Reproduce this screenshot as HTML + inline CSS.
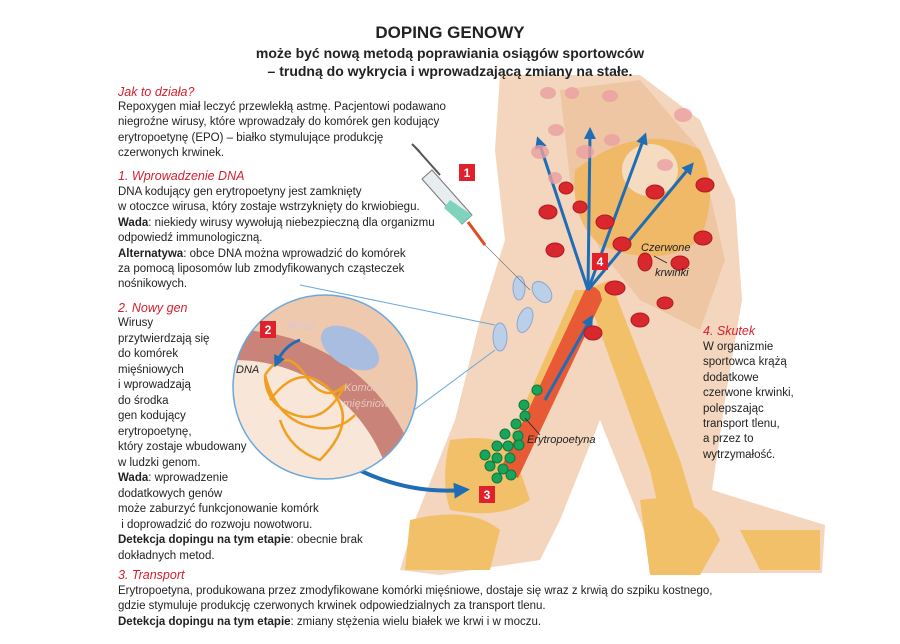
<!DOCTYPE html>
<html><head><meta charset="utf-8"><style>
html,body{margin:0;background:#fff;width:900px;height:644px;overflow:hidden}
body{position:relative;font-family:"Liberation Sans",sans-serif;color:#222}
.t{position:absolute;font-size:11.5px;line-height:15.4px;white-space:nowrap}
.h{color:#d4202f;font-style:italic;font-size:12.5px}
b{font-weight:bold}
svg{position:absolute;left:0;top:0}
</style></head><body>
<svg width="900" height="644" viewBox="0 0 900 644">
<defs><marker id="ah" markerWidth="4" markerHeight="4" refX="2" refY="2" orient="auto"><path d="M0,0L4,2L0,4z" fill="#1f6db5"/></marker></defs>
<path d="M500,75 L640,75 L700,120 L735,200 L742,300 L725,400 L712,490 L760,505 L825,525 L822,573 L660,573 L640,520 L600,420 L560,520 L540,560 L440,575 L400,570 L415,520 L455,420 L480,320 L505,240 L495,150 Z" fill="#f3d6bd"/>
<path d="M560,90 L640,80 L700,150 L725,260 L700,330 L640,300 L600,250 L570,180 Z" fill="#eec6a4"/>
<path d="M575,170 Q640,120 700,150 Q720,190 700,240 Q660,270 600,245 Q570,220 575,170Z" fill="#f0b65d" opacity=".85"/>
<ellipse cx="650" cy="170" rx="28" ry="26" fill="#f5dcc0"/>
<path d="M585,290 L610,280 L680,460 L695,510 L660,515 L650,470 Z" fill="#f3c06a"/>
<path d="M640,500 Q700,490 720,540 L700,575 L650,575 Z" fill="#f3c06a"/>
<path d="M740,530 L820,530 L820,570 L760,570Z" fill="#f3c06a"/>
<path d="M575,290 L600,290 L520,470 L500,460 Z" fill="#f3c06a"/>
<path d="M450,440 Q520,430 520,470 L530,500 Q500,520 450,510 Q440,480 450,440Z" fill="#f3c06a"/>
<path d="M410,520 Q470,505 500,530 L490,570 L405,570Z" fill="#f3c06a"/>
<path d="M600,292 Q592,282 585,290 L500,470 L518,478 L602,300Z" fill="#e85a35"/>
<g stroke="#1f6db5" stroke-width="3" fill="none" marker-end="url(#ah)">
<line x1="588" y1="290" x2="539" y2="142"/>
<line x1="588" y1="290" x2="590" y2="133"/>
<line x1="588" y1="290" x2="644" y2="138"/>
<line x1="588" y1="290" x2="690" y2="167"/>
<line x1="545" y1="400" x2="590" y2="320"/>
</g>
<path d="M340,460 Q400,495 462,490" stroke="#1f6db5" stroke-width="4" fill="none" marker-end="url(#ah)"/>
<g fill="#d9272e" stroke="#b01a22" stroke-width="1">
<ellipse cx="548" cy="212" rx="9" ry="7"/><ellipse cx="555" cy="250" rx="9" ry="7"/><ellipse cx="580" cy="207" rx="7" ry="6"/><ellipse cx="605" cy="222" rx="9" ry="7"/><ellipse cx="622" cy="244" rx="9" ry="7"/><ellipse cx="655" cy="192" rx="9" ry="7"/><ellipse cx="705" cy="185" rx="9" ry="7"/><ellipse cx="703" cy="238" rx="9" ry="7"/><ellipse cx="680" cy="263" rx="9" ry="7"/><ellipse cx="645" cy="262" rx="7" ry="9"/><ellipse cx="615" cy="288" rx="10" ry="7"/><ellipse cx="665" cy="303" rx="8" ry="6"/><ellipse cx="640" cy="320" rx="9" ry="7"/><ellipse cx="593" cy="333" rx="9" ry="7"/><ellipse cx="566" cy="188" rx="7" ry="6"/>
</g>
<g fill="#eba0a2" opacity=".8">
<ellipse cx="548" cy="93" rx="8" ry="6"/><ellipse cx="572" cy="93" rx="7" ry="6"/><ellipse cx="610" cy="96" rx="8" ry="6"/><ellipse cx="683" cy="115" rx="9" ry="7"/><ellipse cx="556" cy="130" rx="8" ry="6"/><ellipse cx="612" cy="140" rx="8" ry="6"/><ellipse cx="540" cy="152" rx="9" ry="7"/><ellipse cx="585" cy="152" rx="9" ry="7"/><ellipse cx="665" cy="165" rx="8" ry="6"/><ellipse cx="555" cy="178" rx="7" ry="6"/>
</g>
<g fill="#1aa35a" stroke="#0b7a3c" stroke-width="1">
<circle cx="537" cy="390" r="5"/><circle cx="524" cy="405" r="5"/><circle cx="525" cy="416" r="5"/><circle cx="516" cy="424" r="5"/><circle cx="505" cy="434" r="5"/><circle cx="518" cy="436" r="5"/><circle cx="497" cy="446" r="5"/><circle cx="508" cy="446" r="5"/><circle cx="485" cy="455" r="5"/><circle cx="497" cy="458" r="5"/><circle cx="510" cy="458" r="5"/><circle cx="490" cy="466" r="5"/><circle cx="503" cy="469" r="5"/><circle cx="511" cy="475" r="5"/><circle cx="497" cy="478" r="5"/><circle cx="519" cy="445" r="5"/>
</g>
<line x1="525" y1="418" x2="540" y2="435" stroke="#222" stroke-width=".8"/>
<g fill="#bccfe8" stroke="#8aa8d0">
<ellipse cx="519" cy="288" rx="6" ry="12"/><ellipse cx="542" cy="292" rx="8" ry="12" transform="rotate(-40 542 292)"/><ellipse cx="525" cy="320" rx="7" ry="13" transform="rotate(20 525 320)"/><ellipse cx="500" cy="337" rx="7" ry="14"/>
</g>
<line x1="412" y1="144" x2="420" y2="152" stroke="#555" stroke-width="2"/>
<line x1="416" y1="148" x2="440" y2="175" stroke="#555" stroke-width="2"/>
<path d="M432,170 L472,215 L462,224 L422,179Z" fill="#e8eef0" stroke="#777"/>
<path d="M450,200 L472,215 L462,224 L444,208Z" fill="#7fd3bd"/>
<line x1="468" y1="222" x2="485" y2="245" stroke="#e24a1f" stroke-width="3"/>
<line x1="485" y1="245" x2="530" y2="290" stroke="#666" stroke-width=".6"/>
<line x1="300" y1="285" x2="495" y2="325" stroke="#6aa8dd" stroke-width="1"/>
<line x1="360" y1="450" x2="495" y2="350" stroke="#6aa8dd" stroke-width="1"/>
<clipPath id="c"><circle cx="325" cy="387" r="92"/></clipPath>
<g clip-path="url(#c)">
<rect x="230" y="290" width="200" height="200" fill="#efc9ad"/>
<circle cx="235" cy="520" r="190" fill="#c98378"/>
<circle cx="235" cy="520" r="160" fill="#f8e6d8"/>
<ellipse cx="350" cy="348" rx="32" ry="18" fill="#a9bde0" transform="rotate(30 350 348)"/>
<path d="M265,375 q20,-30 40,0 t40,10 q-20,40 -50,30 t-30,-40 q10,40 40,50 t50,-10 M270,400 q30,-40 60,-10 t-10,70 q-30,-10 -40,-40" stroke="#f0a020" stroke-width="2.5" fill="none"/>
</g>
<circle cx="325" cy="387" r="92" fill="none" stroke="#6aa8dd" stroke-width="1.5"/>
<path d="M300,340 Q285,345 277,362" stroke="#1f6db5" stroke-width="3" fill="none" marker-end="url(#ah)"/>
<g fill="#e0202b"><rect x="459" y="164" width="16" height="17"/><rect x="260" y="321" width="16" height="17"/><rect x="479" y="486" width="16" height="17"/><rect x="592" y="253" width="16" height="17"/></g>
<g fill="#fff" font-weight="bold" font-size="12" text-anchor="middle" font-family="Liberation Sans"><text x="467" y="177">1</text><text x="268" y="334">2</text><text x="487" y="499">3</text><text x="600" y="266">4</text></g>
<g font-style="italic" font-size="11" font-family="Liberation Sans">
<text x="287" y="329" fill="#d8c6d8">Wirus</text>
<text x="236" y="373" fill="#222">DNA</text>
<text x="344" y="391" fill="#e8c8c0">Komórka</text><text x="343" y="407" fill="#e8c8c0">mięśniowa</text>
<text x="527" y="443" fill="#222">Erytropoetyna</text>
<text x="641" y="251" fill="#222">Czerwone</text><text x="655" y="276" fill="#222">krwinki</text>
</g>
<line x1="654" y1="256" x2="667" y2="263" stroke="#222" stroke-width=".8"/>
</svg>
<div class="t" style="left:0;width:900px;text-align:center;top:25px;font-size:17px;font-weight:bold">DOPING GENOWY</div>
<div class="t" style="left:0;width:900px;text-align:center;top:44px;font-size:14px;font-weight:bold;line-height:18px">może być nową metodą poprawiania osiągów sportowców<br>– trudną do wykrycia i wprowadzającą zmiany na stałe.</div>
<div class="t h" style="left:118px;top:85px">Jak to działa?</div>
<div class="t" style="left:118px;top:100px">Repoxygen miał leczyć przewlekłą astmę. Pacjentowi podawano<br>niegroźne wirusy, które wprowadzały do komórek gen kodujący<br>erytropoetynę (EPO) – białko stymulujące produkcję<br>czerwonych krwinek.</div>
<div class="t h" style="left:118px;top:169px">1. Wprowadzenie DNA</div>
<div class="t" style="left:118px;top:185px">DNA kodujący gen erytropoetyny jest zamknięty<br>w otoczce wirusa, który zostaje wstrzyknięty do krwiobiegu.<br><b>Wada</b>: niekiedy wirusy wywołują niebezpieczną dla organizmu<br>odpowiedź immunologiczną.<br><b>Alternatywa</b>: obce DNA można wprowadzić do komórek<br>za pomocą liposomów lub zmodyfikowanych cząsteczek<br>nośnikowych.</div>
<div class="t h" style="left:118px;top:301px">2. Nowy gen</div>
<div class="t" style="left:118px;top:316px;line-height:15.5px">Wirusy<br>przytwierdzają się<br>do komórek<br>mięśniowych<br>i wprowadzają<br>do środka<br>gen kodujący<br>erytropoetynę,<br>który zostaje wbudowany<br>w ludzki genom.<br><b>Wada</b>: wprowadzenie<br>dodatkowych genów<br>może zaburzyć funkcjonowanie komórk<br>&nbsp;i doprowadzić do rozwoju nowotworu.<br><b>Detekcja dopingu na tym etapie</b>: obecnie brak<br>dokładnych metod.</div>
<div class="t h" style="left:118px;top:568px">3. Transport</div>
<div class="t" style="left:118px;top:584px">Erytropoetyna, produkowana przez zmodyfikowane komórki mięśniowe, dostaje się wraz z krwią do szpiku kostnego,<br>gdzie stymuluje produkcję czerwonych krwinek odpowiedzialnych za transport tlenu.<br><b>Detekcja dopingu na tym etapie</b>: zmiany stężenia wielu białek we krwi i w moczu.</div>
<div class="t h" style="left:703px;top:324px">4. Skutek</div>
<div class="t" style="left:703px;top:340px">W organizmie<br>sportowca krążą<br>dodatkowe<br>czerwone krwinki,<br>polepszając<br>transport tlenu,<br>a przez to<br>wytrzymałość.</div>
</body></html>
